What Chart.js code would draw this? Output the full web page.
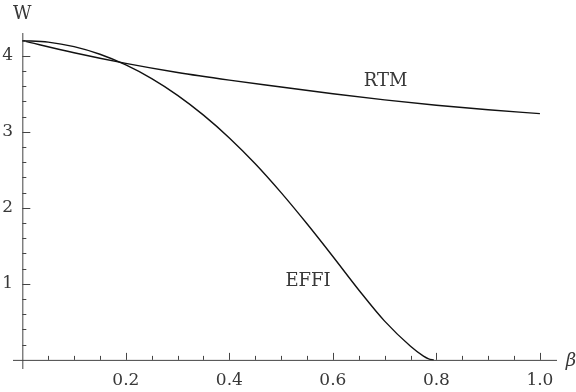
<!DOCTYPE html>
<html>
<head>
<meta charset="utf-8">
<script src="https://cdn.jsdelivr.net/npm/chart.js@4"></script>
<style>
  html, body { margin: 0; padding: 0; background: #fff; }
  #wrap { width: 576px; height: 392px; }
</style>
</head>
<body>
<div id="wrap"><canvas id="plot"></canvas></div>
<script>
'use strict';
// values
const effiBeta = [0, 0.05, 0.1, 0.15, 0.2, 0.25, 0.3, 0.35, 0.4, 0.45, 0.5, 0.55, 0.6, 0.65, 0.7, 0.75, 0.775, 0.785, 0.795];
const effiW = [4.20, 4.18, 4.12, 4.02, 3.88, 3.70, 3.48, 3.22, 2.92, 2.58, 2.20, 1.79, 1.36, 0.92, 0.51, 0.18, 0.05, 0.014, 0];
const rtmBeta = [0, 0.1, 0.2, 0.3, 0.4, 0.5, 0.6, 0.7, 0.8, 0.9, 1.0];
const rtmW = [4.20, 4.04, 3.90, 3.78, 3.68, 3.59, 3.50, 3.42, 3.35, 3.29, 3.24];

const xMajorTicks = [0.2, 0.4, 0.6, 0.8, 1.0];
const xMinorTicks = [0.05, 0.1, 0.15, 0.25, 0.3, 0.35, 0.45, 0.5, 0.55, 0.65, 0.7, 0.75, 0.85, 0.9, 0.95];
const yMajorTicks = [1, 2, 3, 4];
const yMinorTicks = [0.2, 0.4, 0.6, 0.8, 1.2, 1.4, 1.6, 1.8, 2.2, 2.4, 2.6, 2.8, 3.2, 3.4, 3.6, 3.8, 4.2];

const curveLabels = [
    { text: 'RTM', x: 0.702, y: 3.67 },
    { text: 'EFFI', x: 0.552, y: 1.03 }
];

const SERIF = '"DejaVu Serif", "Liberation Serif", serif';
const INK = '#383838';

const toPoints = (xs, ys) => xs.map((x, i) => ({ x, y: ys[i] }));

const axesPlugin = {
    id: 'mathAxes',
    afterDatasetsDraw(chart) {
        const { ctx, chartArea: ca, scales: { x, y } } = chart;
        const x0 = x.getPixelForValue(0);
        const y0 = y.getPixelForValue(0);
        ctx.save();
        ctx.strokeStyle = '#444';
        ctx.lineWidth = 1;
        ctx.beginPath();
        ctx.moveTo(ca.left, y0 + 0.5);
        ctx.lineTo(ca.right, y0 + 0.5);
        ctx.moveTo(x0 + 0.5, ca.top);
        ctx.lineTo(x0 + 0.5, ca.bottom);
        xMajorTicks.forEach(v => {
            const px = Math.round(x.getPixelForValue(v)) + 0.5;
            ctx.moveTo(px, y0); ctx.lineTo(px, y0 - 7);
        });
        xMinorTicks.forEach(v => {
            const px = Math.round(x.getPixelForValue(v)) + 0.5;
            ctx.moveTo(px, y0); ctx.lineTo(px, y0 - 4);
        });
        yMajorTicks.forEach(v => {
            const py = Math.round(y.getPixelForValue(v)) + 0.5;
            ctx.moveTo(x0, py); ctx.lineTo(x0 + 8, py);
        });
        yMinorTicks.forEach(v => {
            const py = Math.round(y.getPixelForValue(v)) + 0.5;
            ctx.moveTo(x0, py); ctx.lineTo(x0 + 4, py);
        });
        ctx.stroke();

        ctx.fillStyle = INK;
        ctx.textAlign = 'center';
        ctx.textBaseline = 'middle';
        ctx.font = '18px ' + SERIF;
        curveLabels.forEach(l => {
            ctx.fillText(l.text, x.getPixelForValue(l.x), y.getPixelForValue(l.y));
        });
        ctx.fillText('W', x0, ca.top - 19);
        ctx.font = 'italic 18px ' + SERIF;
        ctx.fillText('β', ca.right + 14, y0 + 1);
        ctx.restore();
    }
};

new Chart(document.getElementById('plot'), {
    type: 'scatter',
    data: {
        datasets: [
            { label: 'EFFI', data: toPoints(effiBeta, effiW) },
            { label: 'RTM', data: toPoints(rtmBeta, rtmW) }
        ].map(d => Object.assign(d, {
            showLine: true,
            borderColor: '#111',
            borderWidth: 1.4,
            pointRadius: 0,
            cubicInterpolationMode: 'monotone',
            fill: false
        }))
    },
    options: {
        responsive: true,
        maintainAspectRatio: false,
        animation: false,
        layout: { padding: { top: 33, right: 19, left: 0, bottom: 0 } },
        plugins: { legend: { display: false }, tooltip: { enabled: false } },
        scales: {
            x: {
                type: 'linear',
                min: -0.018,
                max: 1.033,
                border: { display: false },
                grid: { display: false, drawTicks: false },
                afterBuildTicks: s => { s.ticks = xMajorTicks.map(v => ({ value: v })); },
                afterFit: s => { s.height = 23; },
                ticks: {
                    padding: 1,
                    maxRotation: 0,
                    autoSkip: false,
                    color: INK,
                    font: { family: SERIF, size: 17 },
                    callback: v => v.toFixed(1)
                }
            },
            y: {
                type: 'linear',
                min: -0.12,
                max: 4.3,
                border: { display: false },
                grid: { display: false, drawTicks: false },
                afterBuildTicks: s => { s.ticks = yMajorTicks.map(v => ({ value: v })); },
                afterFit: s => { s.width = 13; },
                ticks: {
                    padding: 0,
                    autoSkip: false,
                    color: INK,
                    font: { family: SERIF, size: 17 },
                    callback: v => String(v)
                }
            }
        }
    },
    plugins: [axesPlugin]
});
</script>
</body>
</html>
